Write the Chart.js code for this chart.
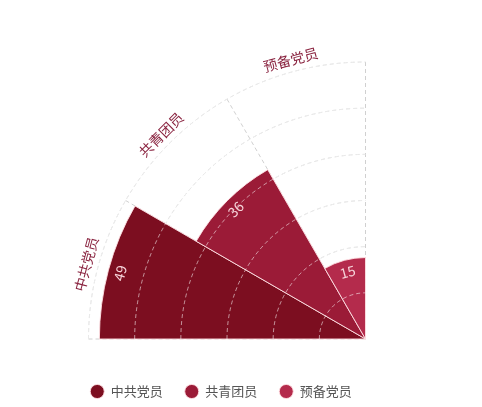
<!DOCTYPE html>
<html>
<head>
<meta charset="utf-8">
<script src="https://cdn.jsdelivr.net/npm/chart.js@4"></script>
<style>
  html, body { margin: 0; padding: 0; background: #fff; }
  #wrap { position: relative; width: 482px; height: 407px; }
</style>
</head>
<body>
<div id="wrap"><canvas id="partyChart"></canvas></div>
<script>
const labels = ['中共党员', '共青团员', '预备党员'];
const values = [49, 36, 15];
const colors = ['#7c0e20', '#9b1b37', '#b42b4c'];
const scaleMax = 51;
const scaleStep = 8.5;

// puts the radial scale in the bottom-right corner, quarter circle only
const quarterPlugin = {
    id: 'quarter',
    beforeDatasetsUpdate(chart, args, opts) {
        const r = chart.scales.r;
        r.xCenter = opts.cx;
        r.yCenter = opts.cy;
        r.drawingArea = opts.radius;
    },
    beforeDatasetsDraw(chart, args, opts) {
        const r = chart.scales.r;
        const ctx = chart.ctx;
        const outer = r.getDistanceFromCenterForValue(r.max);
        ctx.save();
        ctx.strokeStyle = '#d0d0d0';
        ctx.lineWidth = 1;
        ctx.setLineDash([4, 3]);
        r.ticks.forEach(t => {
            if (t.value <= 0) return;
            ctx.beginPath();
            ctx.arc(r.xCenter, r.yCenter, r.getDistanceFromCenterForValue(t.value), Math.PI, Math.PI * 1.5);
            ctx.stroke();
        });
        for (let i = 0; i <= labels.length; i++) {
            const a = Math.PI + i * (Math.PI / 2) / labels.length;
            ctx.beginPath();
            ctx.moveTo(r.xCenter, r.yCenter);
            ctx.lineTo(r.xCenter + Math.cos(a) * outer, r.yCenter + Math.sin(a) * outer);
            ctx.stroke();
        }
        ctx.restore();
    },
    afterDatasetsDraw(chart, args, opts) {
        const r = chart.scales.r;
        const ctx = chart.ctx;
        const outer = r.getDistanceFromCenterForValue(r.max);
        ctx.save();
        // grid seen through the sectors
        ctx.strokeStyle = 'rgba(255,255,255,0.55)';
        ctx.lineWidth = 1;
        ctx.setLineDash([4, 3]);
        r.ticks.forEach(t => {
            if (t.value <= 0) return;
            ctx.beginPath();
            ctx.arc(r.xCenter, r.yCenter, r.getDistanceFromCenterForValue(t.value), Math.PI, Math.PI * 1.5);
            ctx.stroke();
        });
        ctx.setLineDash([]);

        const meta = chart.getDatasetMeta(0);
        ctx.textAlign = 'center';
        ctx.textBaseline = 'middle';
        meta.data.forEach((arc, i) => {
            const mid = (arc.startAngle + arc.endAngle) / 2;
            // category name outside the outer ring
            ctx.save();
            ctx.translate(arc.x + Math.cos(mid) * (outer + 12), arc.y + Math.sin(mid) * (outer + 12));
            ctx.rotate(mid + Math.PI / 2);
            ctx.fillStyle = '#8a2440';
            ctx.font = '14px "Noto Sans CJK SC"';
            ctx.fillText(labels[i], 0, 0);
            ctx.restore();
            // value just inside the sector edge
            ctx.save();
            ctx.translate(arc.x + Math.cos(mid) * (arc.outerRadius - 12), arc.y + Math.sin(mid) * (arc.outerRadius - 12));
            ctx.rotate(mid + Math.PI / 2);
            ctx.fillStyle = '#f6d3d9';
            ctx.font = '14px "Noto Sans CJK SC"';
            ctx.fillText(String(values[i]), 0, 0);
            ctx.restore();
        });
        ctx.restore();
    }
};

new Chart(document.getElementById('partyChart'), {
    type: 'polarArea',
    data: {
        labels: labels,
        datasets: [{
            data: values,
            backgroundColor: colors,
            borderColor: 'rgba(255,225,228,0.9)',
            borderWidth: 1,
            angle: 30
        }]
    },
    options: {
        responsive: true,
        maintainAspectRatio: false,
        animation: false,
        layout: { padding: { right: 40, bottom: -1 } },
        scales: {
            r: {
                min: 0,
                max: scaleMax,
                startAngle: 270,
                ticks: { display: false, stepSize: scaleStep },
                grid: { display: false },
                angleLines: { display: false },
                pointLabels: { display: false }
            }
        },
        plugins: {
            quarter: { cx: 365.5, cy: 339, radius: 277 },
            tooltip: { enabled: false },
            legend: {
                position: 'bottom',
                labels: {
                    usePointStyle: true,
                    pointStyle: 'circle',
                    boxHeight: 10,
                    pointStyleWidth: 14,
                    padding: 22,
                    color: '#555',
                    font: { family: '"Noto Sans CJK SC"', size: 13 }
                }
            }
        }
    },
    plugins: [quarterPlugin]
});
</script>
</body>
</html>
